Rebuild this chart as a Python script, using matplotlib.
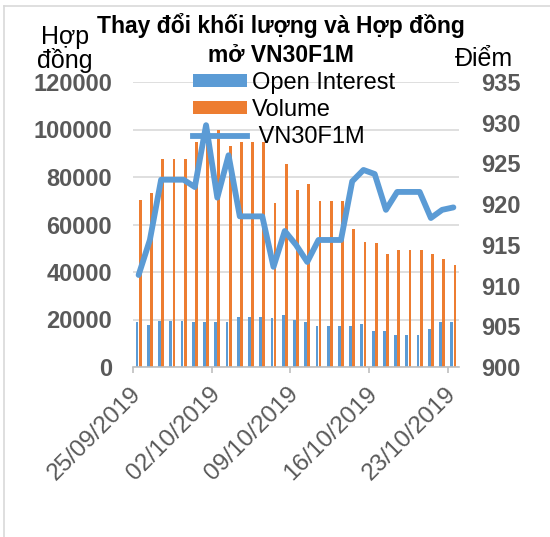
import numpy as np
import matplotlib.pyplot as plt
import matplotlib.transforms as mtransforms
from matplotlib.lines import Line2D

plt.rcParams['font.family'] = ['Liberation Sans', 'DejaVu Sans']

# 25/09/2019 .. 23/10/2019, mỗi ngày một cột (cuối tuần lặp lại giá trị thứ 6)
dates = ['25/09/2019', '26/09/2019', '27/09/2019', '28/09/2019', '29/09/2019',
         '30/09/2019', '01/10/2019', '02/10/2019', '03/10/2019', '04/10/2019',
         '05/10/2019', '06/10/2019', '07/10/2019', '08/10/2019', '09/10/2019',
         '10/10/2019', '11/10/2019', '12/10/2019', '13/10/2019', '14/10/2019',
         '15/10/2019', '16/10/2019', '17/10/2019', '18/10/2019', '19/10/2019',
         '20/10/2019', '21/10/2019', '22/10/2019', '23/10/2019']
open_interest = [19100, 17700, 19500, 19500, 19500, 19100, 19100, 19100, 19100, 21200,
                 21200, 21200, 20500, 21900, 19800, 19100, 17300, 17300, 17300, 17300,
                 18100, 15300, 15300, 13600, 13600, 13600, 15900, 18900, 18900]
volume = [70300, 73100, 87600, 87600, 87600, 94600, 97000, 99800, 93000, 94600,
          94600, 94600, 68900, 85500, 74500, 76900, 70000, 70000, 70000, 58100,
          52800, 52400, 47400, 49300, 49300, 49300, 47600, 45600, 42900]
vn30f1m = [911.3, 915.6, 923.0, 923.0, 923.0, 922.1, 929.7, 920.8, 926.0, 918.5,
           918.5, 918.5, 912.3, 916.7, 915.0, 912.9, 915.6, 915.6, 915.6, 922.8,
           924.2, 923.7, 919.3, 921.5, 921.5, 921.5, 918.3, 919.3, 919.6]

blue = '#5b9bd5'
orange = '#ed7d31'
gray = '#595959'

x = np.arange(len(dates)) + 0.5
w = 0.25

fig = plt.figure(figsize=(5.5, 5.37), dpi=100)
ax = fig.add_axes([133/550, 1-367/537, 326/550, 285/537])
ax2 = ax.twinx()

ax.bar(x - 0.14, open_interest, w, color=blue, label='Open Interest', zorder=2)
ax.bar(x + 0.14, volume, w, color=orange, label='Volume', zorder=2)
ax2.plot(x, vn30f1m, color=blue, lw=4.2, solid_capstyle='round', solid_joinstyle='round')

ax.set_xlim(0, len(dates))
ax.set_ylim(0, 120000)
ax.set_yticks(np.arange(0, 120001, 20000))
ax2.set_ylim(900, 935)
ax2.set_yticks(np.arange(900, 936, 5))

ax.grid(axis='y', color='#d9d9d9', lw=1.2, zorder=0)
for a in (ax, ax2):
    for s in ['top', 'left', 'right']:
        a.spines[s].set_visible(False)
ax2.spines['bottom'].set_visible(False)
ax.spines['bottom'].set_color('#bfbfbf')
ax.spines['bottom'].set_linewidth(1.2)

ax.tick_params(axis='y', length=0, pad=15, labelsize=17, labelcolor=gray)
ax2.tick_params(axis='y', length=0, pad=16, labelsize=17, labelcolor=gray)
for lab in ax.get_yticklabels() + ax2.get_yticklabels():
    lab.set_fontweight('bold')

tick_idx = [0, 7, 14, 21, 28]
ax.set_xticks(tick_idx)
ax.set_xticklabels([dates[i] for i in tick_idx], rotation=45, ha='right',
                   rotation_mode='anchor', va='center')
ax.tick_params(axis='x', length=4, width=1.2, color='#bfbfbf', pad=13,
               labelsize=17.5, labelcolor=gray)
offset = mtransforms.ScaledTranslation(5/100, 0, fig.dpi_scale_trans)
for lab in ax.get_xticklabels():
    lab.set_transform(lab.get_transform() + offset)

# Tiêu đề và nhãn trục
fig.text(281/550, 1-26/537, 'Thay đổi khối lượng và Hợp đồng',
         ha='center', va='center', fontsize=16.5, fontweight='bold')
fig.text(281/550, 1-55/537, 'mở VN30F1M',
         ha='center', va='center', fontsize=16.5, fontweight='bold')
fig.text(65/550, 1-49/537, 'Hợp\nđồng', ha='center', va='center', fontsize=18,
         linespacing=0.95)
fig.text(484/550, 1-59/537, 'Điểm', ha='center', va='center', fontsize=18)

handles, labels = ax.get_legend_handles_labels()
handles.append(Line2D([], [], color=blue, lw=4.2))
labels.append(' VN30F1M')
ax.legend(handles, labels, loc='upper left', bbox_to_anchor=(193/550, 1-72/537),
          bbox_transform=fig.transFigure, frameon=False, fontsize=17,
          borderpad=0, borderaxespad=0, handlelength=2.3, handleheight=0.45,
          handletextpad=0.2, labelspacing=0.22)

# khung ngoài biểu đồ
fig.add_artist(Line2D([3.5/550, 3.5/550], [0, 1-6/537], color='#d9d9d9', lw=1.2))
fig.add_artist(Line2D([3.5/550, 1], [1-6/537, 1-6/537], color='#d9d9d9', lw=1.2))

fig.savefig('out.png', dpi=100)
